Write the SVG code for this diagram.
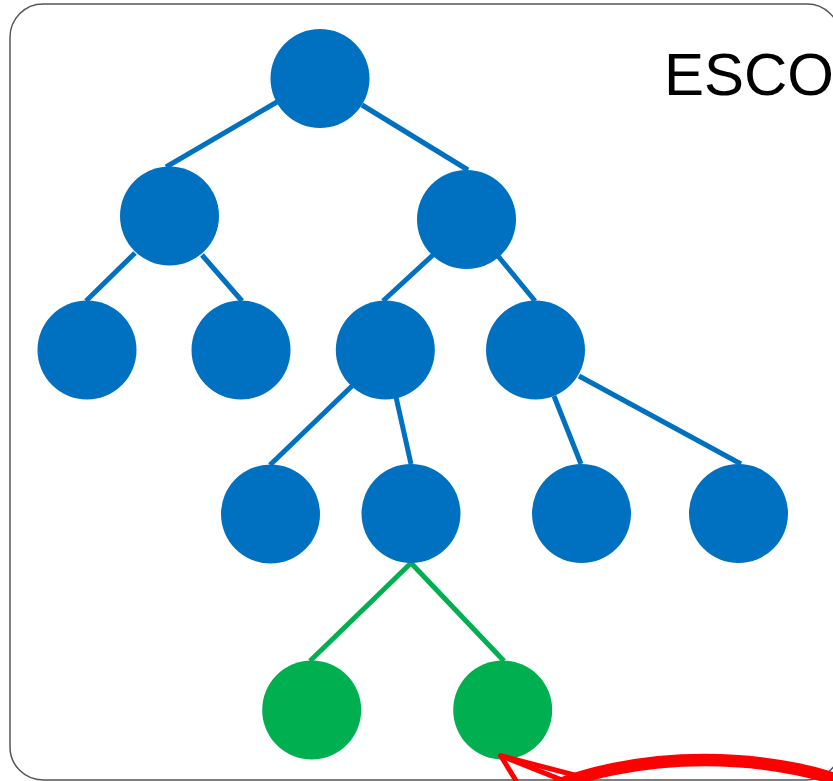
<svg xmlns="http://www.w3.org/2000/svg" width="833" height="781" viewBox="0 0 833 781">
<style>
.blue{fill:#0070C0}
.green{fill:#00B050}
.eb{stroke:#0070C0;stroke-width:5;fill:none}
.eg{stroke:#00B050;stroke-width:5;fill:none}
.red{stroke:#FF0000;fill:none;stroke-linejoin:round;stroke-linecap:round}
</style>
<rect x="0" y="0" width="833" height="781" fill="#ffffff"/>
<rect x="10" y="4" width="830" height="776" rx="33" ry="33" fill="#ffffff" stroke="#555555" stroke-width="1.5"/>
<text x="664" y="95" font-family="'Liberation Sans', Arial, sans-serif" font-size="60" fill="#000000">ESCO</text>
<g id="connectors">
<line class="eb" x1="277" y1="102" x2="166" y2="167"/>
<line class="eb" x1="362" y1="105" x2="468" y2="170"/>
<line class="eb" x1="135" y1="253" x2="86" y2="301"/>
<line class="eb" x1="202" y1="255" x2="242" y2="301"/>
<line class="eb" x1="433" y1="255" x2="383" y2="301"/>
<line class="eb" x1="498" y1="256" x2="535" y2="301"/>
<line class="eb" x1="352" y1="386" x2="270" y2="465"/>
<line class="eb" x1="396" y1="397" x2="411" y2="464"/>
<line class="eb" x1="554" y1="396" x2="581" y2="464"/>
<line class="eb" x1="579" y1="376" x2="741" y2="464"/>
<line class="eg" x1="411" y1="563" x2="310" y2="661"/>
<line class="eg" x1="411" y1="563" x2="504" y2="661"/>
</g>
<g id="root"><circle class="blue" cx="320" cy="78.5" r="49.5"/></g>
<g id="n1"><circle class="blue" cx="169.5" cy="216" r="49.5"/></g>
<g id="n2"><circle class="blue" cx="466.5" cy="219.5" r="49.5"/></g>
<g id="n3"><circle class="blue" cx="87" cy="350" r="49.5"/></g>
<g id="n4"><circle class="blue" cx="241" cy="350" r="49.5"/></g>
<g id="n5"><circle class="blue" cx="385.3" cy="350" r="49.5"/></g>
<g id="n6"><circle class="blue" cx="535.5" cy="350" r="49.5"/></g>
<g id="n7"><circle class="blue" cx="270.5" cy="514" r="49.5"/></g>
<g id="n8"><circle class="blue" cx="411" cy="513.5" r="49.5"/></g>
<g id="n9"><circle class="blue" cx="581.5" cy="513.5" r="49.5"/></g>
<g id="n10"><circle class="blue" cx="738.5" cy="513.5" r="49.5"/></g>
<g id="g1"><circle class="green" cx="311.7" cy="710" r="49.5"/></g>
<g id="g2"><circle class="green" cx="502.7" cy="710" r="49.5"/></g>
<g id="callout">
<ellipse class="red" cx="705" cy="891" rx="250" ry="131" stroke-width="12.5"/>
<polyline class="red" stroke-width="5" points="518,784 500.7,755.7 582,777"/>
<line class="red" stroke-width="5" x1="500.7" y1="755.7" x2="572" y2="784"/>
</g>
</svg>
